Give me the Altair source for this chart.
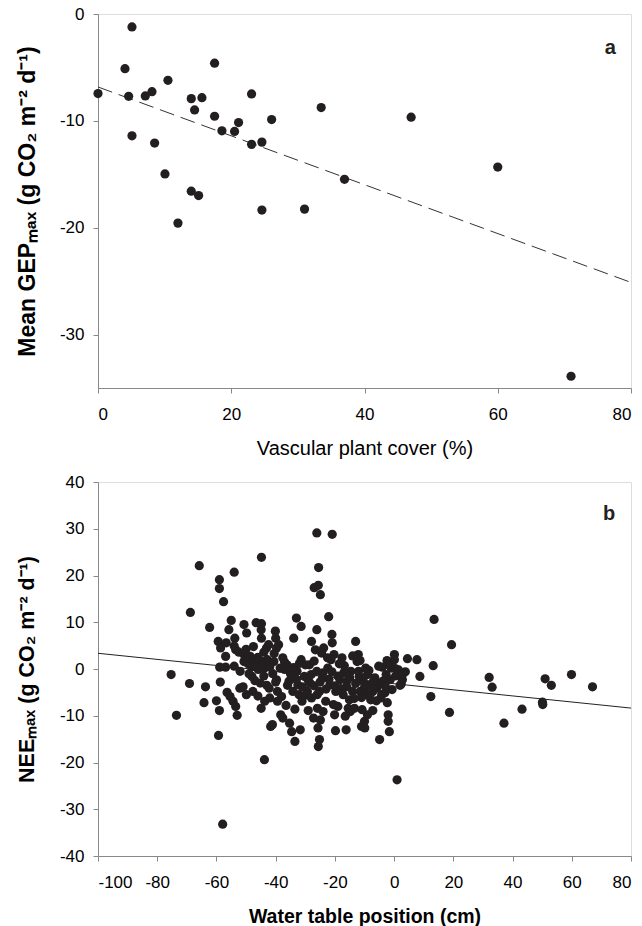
import altair as alt
import pandas as pd

# ---------- Panel a ----------
cover = [0, 5.1, 4.05, 4.6, 5.1, 7.1, 8.1, 8.5, 10.5, 10.05, 14.0, 14.5, 15.6, 14.0, 15.1,
         12.0, 17.5, 17.5, 18.6, 20.5, 21.1, 23.05, 23.05, 24.6, 24.6, 26.06, 31.0, 33.5,
         37.0, 47.0, 60.0, 71.0]
gep = [-7.45, -1.21, -5.12, -7.7, -11.4, -7.67, -7.27, -12.08, -6.21, -14.97, -7.92, -8.98,
       -7.83, -16.58, -16.99, -19.57, -4.6, -9.57, -10.93, -10.99, -10.16, -7.48, -12.2,
       -11.99, -18.35, -9.88, -18.26, -8.76, -15.47, -9.66, -14.32, -33.9]
gep_line_x = [0, 80]
gep_line_y = [-6.83, -25.12]

# ---------- Panel b ----------
wt = [
    -75.3, -73.5, -69.1, -68.8, -65.8, -63.7, -64.2, -62.3, -60.0, -59.3, -59.0, -59.0, -57.6,
    -54.0, -57.9, -44.8, -43.8, -26.1, -20.9, -25.5, -27.0, -25.6, -24.9, -22.1, -26.1, 13.5,
    19.4, 13.2, 12.4, 18.7, 1.0, 32.1, 33.1, 37.1, 43.2, 50.1, 50.2, 51.0, 53.1, 59.9, 67.0,
    4.5, 7.7, 8.7, 0.1, 0.1, 3.8, 2.8, 2.4, 0.4, -2.4,
    -59.4, -58.6, -56.7, -56.9, -58.9, -56.9, -58.7, -59.0, -56.4, -55.4, -54.4, -53.5, -53.0,
    -55.8, -55.0, -53.8, -54.0, -53.5, -54.0, -52.4, -52.1, -50.7, -50.7, -49.8, -50.7, -49.9,
    -49.3, -48.6, -48.0, -47.7, -46.9, -46.6, -45.9, -45.2, -44.9, -44.8, -44.9, -44.4, -43.8,
    -43.7, -43.1, -42.8, -42.4, -42.2, -41.7, -41.1, -40.6, -40.1, -40.0, -39.7, -39.7, -39.4,
    -39.4, -39.0, -38.3, -37.6, -37.6, -37.0, -36.2, -35.5, -35.3, -34.6, -34.2, -33.9, -33.5,
    -33.0, -32.8, -32.5, -32.1, -31.7, -31.4, -31.4, -31.1, -30.3, -30.0, -29.3, -28.6, -28.4,
    -27.9, -27.9, -27.2, -26.6, -26.1, -25.9, -25.7, -25.6, -25.2, -25.2, -24.9, -24.5, -24.2,
    -23.8, -23.1, -22.4, -21.7, -21.3, -21.0, -20.9, -20.3, -20.1, -19.8, -19.7, -19.0, -18.3,
    -17.6, -17.2, -16.8, -16.2, -16.0, -15.5, -15.1, -14.8, -14.6, -14.0, -13.4, -13.0, -12.5,
    -12.1, -11.8, -11.4, -11.0, -10.4, -10.0, -9.9, -9.6, -9.3, -9.0, -8.3, -7.9, -7.2, -7.2,
    -6.5, -5.9, -5.2, -4.9, -4.5, -3.8, -3.1, -2.7, -2.0, -2.0, -1.6, -1.3, -1.0, -0.7,
    -49, -48, -47, -46, -45, -44, -43, -42, -41, -40, -38.5, -36, -35, -34, -33, -31, -30, -29,
    -28, -27, -26, -25, -24, -23, -22, -21, -20, -19, -18, -17, -16, -15, -13, -12, -11, -10,
    -9, -8, -7, -6, -5, -4, -3, -51, -52, -50, -47.5, -46, -44, -42, -40.5, -38, -37, -36.5,
    -33.5, -32, -29, -27, -24, -22.5, -20.5, -18.5, -16.5, -14, -13.5, -11.5, -10.8, -8.5,
    -6.5, -4.2, -2.3, -1.5, 0.5, 1.5, 2.0, 3.0, -44.8,
]
nee = [
    -1.2, -9.9, -3.1, 12.1, 22.1, -3.8, -7.2, 8.9, -6.8, -14.2, 19.1, 17.2, 14.4,
    20.7, -33.2, 23.9, -19.4, 29.1, 28.8, 21.7, 17.4, 17.9, 15.9, 11.2, 8.4, 10.6,
    5.2, 0.7, -5.9, -9.3, -23.7, -1.8, -3.9, -11.6, -8.6, -7.1, -7.6, -2.1, -3.5, -1.2, -3.8,
    2.2, 2.0, -1.6, 3.1, 2.0, -0.6, -2.3, -3.2, 0.1, 1.8,
    5.9, 4.5, 5.6, 2.7, 0.4, 0.4, -2.8, -8.9, -5.0, -5.9, -6.9, -8.0, -9.9,
    8.4, 10.4, 6.6, 4.9, 4.1, 0.6, 3.6, -4.1, 3.1, 9.5, 7.7, 1.6, -5.5,
    1.1, 2.7, -1.6, -4.8, 1.6, 9.9, -0.1, -3.0, 8.4, 6.6, -8.4, 1.6, 0.2,
    -6.9, 4.5, 2.0, 5.2, -4.1, -12.3, -11.9, 1.6, 8.1, 6.6, 4.5, -2.3, -4.8,
    -6.9, 5.2, -9.8, 2.4, -10.5, -0.1, 0.9, -2.6, -11.6, -13.4, -4.8, 6.6, -15.5,
    10.9, -0.5, -3.4, -5.5, -13.0, 9.1, 2.0, -6.9, -1.6, 0.9, -4.8, 0.9, -3.0,
    5.9, -6.2, -10.5, 4.1, -0.5, -8.4, -12.6, -16.6, -15.1, -4.8, -10.9, 3.4, -1.9,
    4.5, -6.9, 0.2, -3.4, 2.0, 7.4, 5.6, 3.1, -9.8, -13.2, -4.8, -8.0, -2.3,
    2.4, -5.5, 0.7, -13.0, -2.6, -8.4, -6.6, -9.1, -0.5, -4.8, -8.4, 5.9, 1.6,
    3.1, -1.6, -4.8, -12.3, -2.6, -11.2, -12.6, 0.2, -5.5, -9.8, -3.4, -6.6, -4.8, -8.9,
    -1.9, -4.1, 0.6, -15.1, -6.2, -2.6, -5.1, -1.2, -9.8, -11.2, -13.4, -2.3, 0.2, -4.4,
    -1, 0.5, -2.5, 2.5, 0.8, -1.5, -3.5, 0.5, -1, -2.8, 0.2, -3.5, -1, 0.3, -2.2, -3.8, -5.6, -2.4,
    -1.2, -3.6, -5.5, -2.8, -0.8, -4.3, -2.2, -0.6, -3.6, -1.5, -4.2, -0.8, -3.8, -1.8, -3.1, -0.5, -6.1, -3.9,
    -1.2, -5.2, -2.6, -6.8, -3.3, 0.4, -3.6, -3.8, -0.5, 4.2, 4.8, -5.8, 3.6, -6.2, 3.3, -5.9, 1.5, -7.8,
    -8.6, 1.2, -8.9, 1.7, -9.1, 2.4, -7.6, 1.1, -10.1, 2.8, -6.3, 1.8, -8.7, -0.3,
    -3.7, -5.5, -7.2, 0.8, -1.5, -0.2, -3.5, -1.0, 9.7,
]
nee_line_x = [-100, 80]
nee_line_y = [3.36, -8.36]

FONT = "Liberation Sans"
DOT = "#231f20"
W, H = 533, 374
HYPHEN_LABEL = "'' + datum.value"

df_a = pd.DataFrame({"x": cover, "y": gep})
df_a_line = pd.DataFrame({"x": gep_line_x, "y": gep_line_y})
df_b = pd.DataFrame({"x": wt, "y": nee})
df_b_line = pd.DataFrame({"x": nee_line_x, "y": nee_line_y})


def axes(xtitle, xdom, xvals, xbold, xtfs, ytitle, ydom, yvals, ytfs):
    xax = alt.Axis(values=xvals, title=xtitle, titleFontWeight="bold" if xbold else "normal",
                   titleFontSize=xtfs, titleX=W / 2, titleY=60, titleBaseline="middle",
                   titleAlign="center", labelPadding=13, labelFontSize=17, grid=False,
                   labelExpr=HYPHEN_LABEL)
    yax = alt.Axis(values=yvals, title=ytitle, titleFontWeight="bold", titleFontSize=ytfs,
                   titleX=-71, titleY=H / 2, titleAngle=270, titleBaseline="middle",
                   titleAlign="center", labelPadding=9, labelFontSize=17, grid=False,
                   labelExpr=HYPHEN_LABEL)
    xs = alt.Scale(domain=xdom, nice=False, zero=False)
    ys = alt.Scale(domain=ydom, nice=False, zero=False)
    return xax, yax, xs, ys


xa, ya, xsa, ysa = axes("Vascular plant cover (%)", [0, 80], [0, 20, 40, 60, 80], False, 20,
                        "Mean GEPₘₐₓ (g CO₂ m⁻² d⁻¹)", [-35, 0], [0, -10, -20, -30], 23)
pts_a = alt.Chart(df_a).mark_circle(size=85, color=DOT, opacity=1).encode(
    x=alt.X("x:Q", scale=xsa, axis=xa), y=alt.Y("y:Q", scale=ysa, axis=ya))
line_a = alt.Chart(df_a_line).mark_line(color="#333", strokeWidth=1, strokeDash=[15, 7]).encode(
    x="x:Q", y="y:Q")
lab_a = alt.Chart(pd.DataFrame({"x": [76.9], "y": [-3.2], "t": ["a"]})).mark_text(
    font=FONT, fontSize=20, fontWeight="bold", color="#222").encode(x="x:Q", y="y:Q", text="t:N")
panel_a = alt.layer(line_a, pts_a, lab_a).properties(width=W, height=H)

xb, yb, xsb, ysb = axes("Water table position (cm)", [-100, 80], list(range(-100, 81, 20)), True, 19.5,
                        "NEEₘₐₓ (g CO₂ m⁻² d⁻¹)", [-40, 40], list(range(-40, 41, 10)), 21.5)
pts_b = alt.Chart(df_b).mark_circle(size=85, color=DOT, opacity=1).encode(
    x=alt.X("x:Q", scale=xsb, axis=xb), y=alt.Y("y:Q", scale=ysb, axis=yb))
line_b = alt.Chart(df_b_line).mark_line(color="#222", strokeWidth=1).encode(x="x:Q", y="y:Q")
lab_b = alt.Chart(pd.DataFrame({"x": [72.6], "y": [33.1], "t": ["b"]})).mark_text(
    font=FONT, fontSize=20, fontWeight="bold", color="#222").encode(x="x:Q", y="y:Q", text="t:N")
panel_b = alt.layer(line_b, pts_b, lab_b).properties(width=W, height=H)

chart = alt.vconcat(panel_a, panel_b, spacing=94, bounds="flush").properties(
    padding={"left": 15, "top": 4, "right": 0, "bottom": 0},
).configure_view(stroke="#555", strokeWidth=1).configure_axis(
    labelFont=FONT, titleFont=FONT, labelColor="#222", titleColor="#222",
    domainColor="#444", tickColor="#444", tickSize=5, domainWidth=1, tickWidth=1
).configure(background="white")

chart.save("out.html", embed_options={"renderer": "svg", "actions": False})
